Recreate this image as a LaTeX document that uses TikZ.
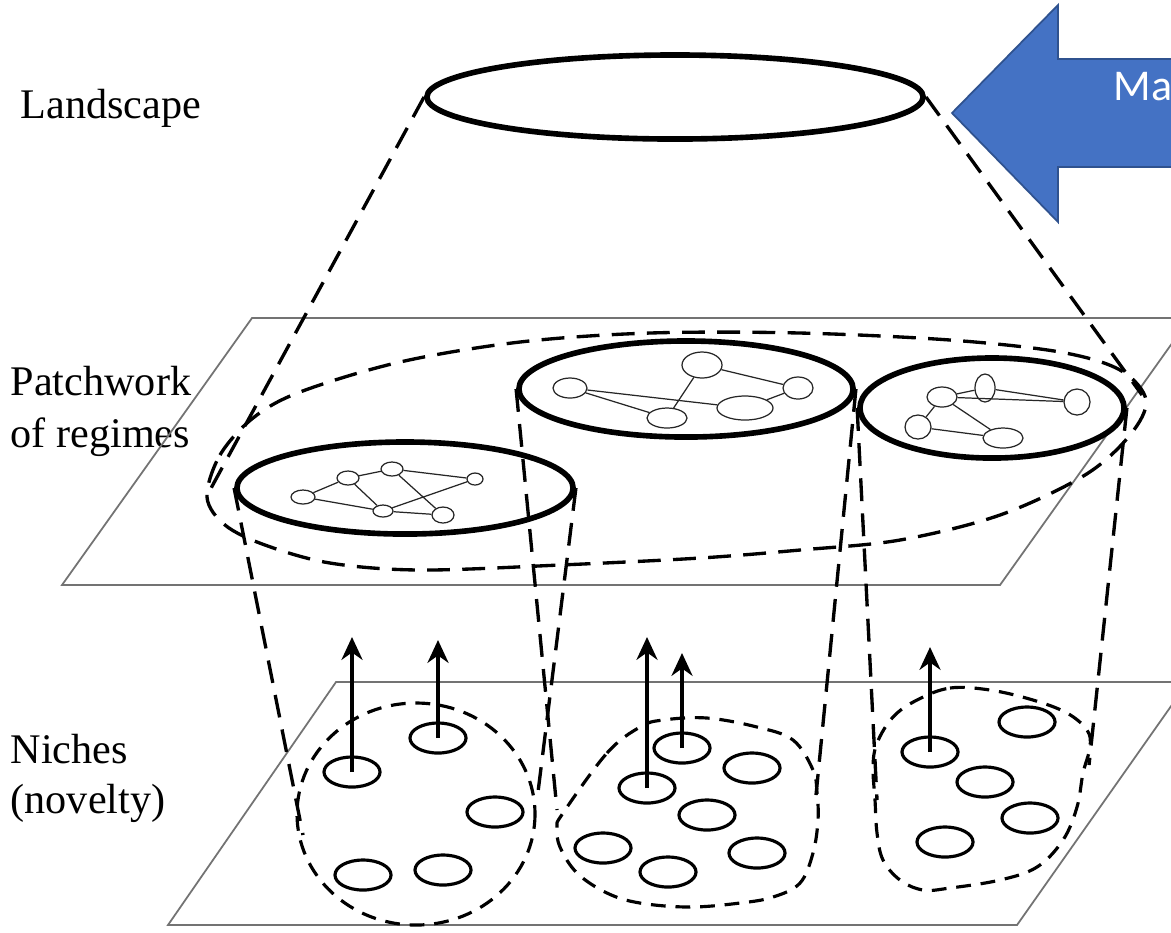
\documentclass[tikz,border=0pt]{standalone}
\usepackage{fontspec}
\setmainfont{Liberation Serif}
\newfontfamily\calibrifont{Carlito}
\usetikzlibrary{shapes.geometric,arrows.meta}
\definecolor{arrowblue}{HTML}{4472C4}
\definecolor{arrowedge}{HTML}{2F528F}
\begin{document}
\begin{tikzpicture}[x=0.01cm,y=-0.01cm,
  plane/.style={draw=black!55,line width=0.5pt},
  thickell/.style={draw,ellipse,line width=1.6pt,inner sep=0pt},
  cone/.style={line width=0.95pt,dash pattern=on 6.5pt off 3.5pt},
  nichebd/.style={line width=0.9pt,dash pattern=on 4.2pt off 2.8pt},
  nic/.style={draw,ellipse,line width=0.9pt,inner sep=0pt,minimum width=0.56cm,minimum height=0.3cm},
  net/.style={draw=black!85,ellipse,line width=0.35pt,inner sep=0pt},
  netedge/.style={draw=black!85,line width=0.35pt},
  uparr/.style={line width=0.95pt,-{Stealth[length=6.5pt,width=6pt]}},
  lbl/.style={font=\fontsize{12}{15}\selectfont,inner sep=0pt,anchor=base west},
]
\useasboundingbox (0,0) rectangle (1171,932);
\fill[white] (0,0) rectangle (1171,932);
\clip (0,0) rectangle (1171,932);

% labels
\node[lbl] (landscape) at (20,118) {Landscape};
\node[lbl] (patch1) at (10,395) {Patchwork};
\node[lbl] (patch2) at (10,447) {of regimes};
\node[lbl] (niche1) at (10,763) {Niches};
\node[lbl] (niche2) at (10,813) {(novelty)};

% planes
\draw[plane] (252,318) -- (1190,318) -- (1000,585) -- (62,585) -- cycle;
\draw[plane] (336,682) -- (1188,682) -- (1017,925) -- (168,925) -- cycle;

% blue arrow
\filldraw[fill=arrowblue,draw=arrowedge,line width=0.5pt]
  (952,113) -- (1058,5) -- (1058,59) -- (1200,59) -- (1200,167) -- (1058,167) -- (1058,222) -- cycle;
\node[font=\calibrifont\fontsize{12.5}{15}\selectfont,text=white,inner sep=0pt,anchor=base west] (ma) at (1113,100) {Ma};

% landscape ellipse
\node[thickell,minimum width=4.96cm,minimum height=0.84cm] (land) at (675,97) {};
\coordinate (cL) at (210,490);
\coordinate (cR) at (1142,395);
\draw[cone] (land.west) -- (cL);
\draw[cone] (land.east) -- (cR);

% big dashed patchwork boundary
\draw[cone] plot[smooth cycle,tension=0.55] coordinates {
  (207,497) (220,455) (253,418) (300,392) (400,362) (520,342) (650,333)
  (800,333) (950,340) (1060,352) (1120,370) (1146,400) (1130,435)
  (1085,475) (1000,515) (900,540) (800,550) (700,558) (560,565)
  (420,570) (330,563) (265,545) (225,525)};

% regimes
\node[thickell,minimum width=3.36cm,minimum height=0.92cm] (regL) at (405,488) {};
\node[thickell,minimum width=3.34cm,minimum height=0.96cm] (regM) at (686,389) {};
\node[thickell,minimum width=2.64cm,minimum height=1.0cm] (regR) at (992,408) {};

% left network
\node[net,minimum width=0.24cm,minimum height=0.14cm] (la) at (303,497) {};
\node[net,minimum width=0.22cm,minimum height=0.14cm] (lb) at (348,478) {};
\node[net,minimum width=0.22cm,minimum height=0.14cm] (lc) at (392,469) {};
\node[net,minimum width=0.16cm,minimum height=0.12cm] (ld) at (475,479) {};
\node[net,minimum width=0.20cm,minimum height=0.12cm] (le) at (383,511) {};
\node[net,minimum width=0.22cm,minimum height=0.16cm] (lf) at (443,515) {};
\draw[netedge] (la) -- (lb) (lb) -- (lc) (lc) -- (ld) (la) -- (le) (lb) -- (le)
  (lc) -- (lf) (ld) -- (le) (le) -- (lf);

% middle network
\node[net,minimum width=0.40cm,minimum height=0.26cm] (mA) at (702,365) {};
\node[net,minimum width=0.34cm,minimum height=0.20cm] (mB) at (570,388) {};
\node[net,minimum width=0.30cm,minimum height=0.22cm] (mC) at (798,388) {};
\node[net,minimum width=0.40cm,minimum height=0.20cm] (mD) at (667,418) {};
\node[net,minimum width=0.56cm,minimum height=0.24cm] (mE) at (745,408) {};
\draw[netedge] (mB) -- (mD) (mA) -- (mD) (mB) -- (mE) (mA) -- (mC) (mE) -- (mC);

% right network
\node[net,minimum width=0.30cm,minimum height=0.20cm] (rP) at (942,397) {};
\node[net,minimum width=0.20cm,minimum height=0.28cm] (rQ) at (985,388) {};
\node[net,minimum width=0.26cm,minimum height=0.26cm] (rR) at (1077,402) {};
\node[net,minimum width=0.26cm,minimum height=0.24cm] (rS) at (918,427) {};
\node[net,minimum width=0.40cm,minimum height=0.20cm] (rT) at (1003,438) {};
\draw[netedge] (rP) -- (rQ) (rQ) -- (rR) (rP) -- (rR) (rP) -- (rT) (rS) -- (rP) (rS) -- (rT);

% cylinder lines
\coordinate (kL1) at (303,835);
\coordinate (kL2) at (537,800);
\coordinate (kM1) at (557,810);
\coordinate (kM2) at (816,795);
\coordinate (kR1) at (877,800);
\coordinate (kR2) at (1089,765);
\draw[cone] (regL.west) -- (kL1);
\draw[cone] (regL.east) -- (kL2);
\draw[cone] (regM.west) -- (kM1);
\draw[cone] (regM.east) -- (kM2);
\draw[cone] (regR.west) -- (kR1);
\draw[cone] (regR.east) -- (kR2);

% niche boundaries
\draw[nichebd] (416,814) ellipse (119 and 111);
\draw[nichebd] plot[smooth cycle,tension=0.6] coordinates {
  (563,813) (607,753) (640,727) (663,720) (707,718) (757,727) (793,740)
  (813,770) (817,793) (818,820) (813,853) (800,883) (773,897) (740,903)
  (690,907) (640,903) (607,893) (577,873) (560,847) (557,827)};
\draw[nichebd] plot[smooth cycle,tension=0.6] coordinates {
  (917,700) (950,688) (990,690) (1033,700) (1067,713) (1087,730) (1090,747)
  (1083,773) (1077,807) (1063,840) (1037,867) (1000,880) (950,888)
  (923,890) (900,880) (883,860) (877,833) (875,800) (873,767) (877,743) (893,717)};

% niches (left)
\node[nic] (n1) at (352,772) {};
\node[nic] (n2) at (438,738) {};
\node[nic] (n3) at (495,812) {};
\node[nic] (n4) at (363,875) {};
\node[nic] (n5) at (443,870) {};
% niches (middle)
\node[nic] (n6) at (682,748) {};
\node[nic] (n7) at (647,788) {};
\node[nic] (n8) at (752,768) {};
\node[nic] (n9) at (707,815) {};
\node[nic] (n10) at (603,848) {};
\node[nic] (n11) at (668,872) {};
\node[nic] (n12) at (757,853) {};
% niches (right)
\node[nic] (n13) at (1027,722) {};
\node[nic] (n14) at (930,752) {};
\node[nic] (n15) at (985,782) {};
\node[nic] (n16) at (1030,818) {};
\node[nic] (n17) at (945,842) {};

% upward arrows
\coordinate (a1) at (352,637);
\coordinate (a2) at (438,640);
\coordinate (a7) at (647,637);
\coordinate (a6) at (682,653);
\coordinate (a14) at (930,647);
\draw[uparr] (n1.center) -- (a1);
\draw[uparr] (n2.center) -- (a2);
\draw[uparr] (n7.center) -- (a7);
\draw[uparr] (n6.center) -- (a6);
\draw[uparr] (n14.center) -- (a14);
\end{tikzpicture}
\end{document}
